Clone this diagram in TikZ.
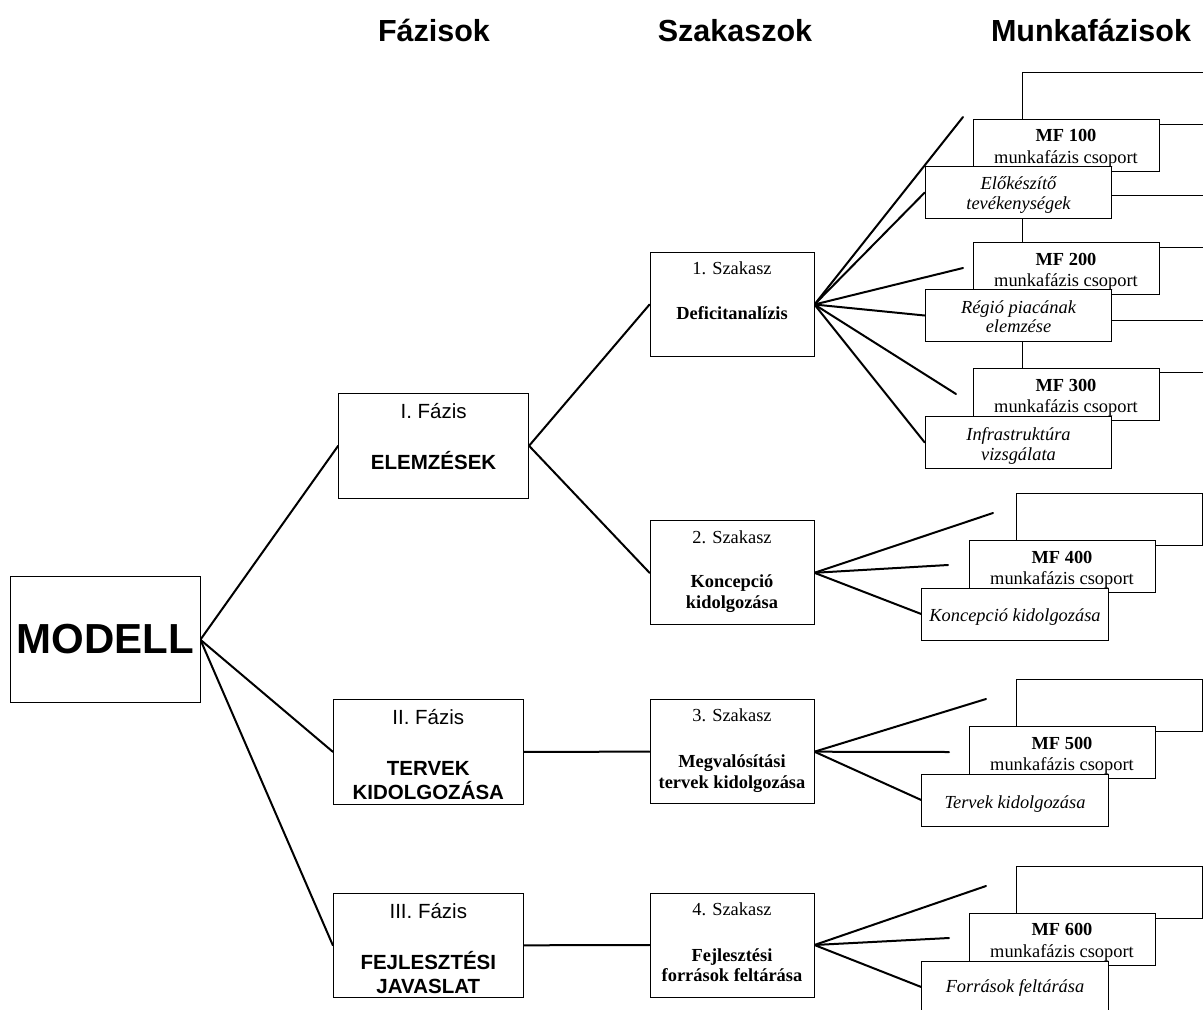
\documentclass[tikz,border=0pt]{standalone}
\usepackage{fontspec}
\setmainfont{Liberation Serif}
\setsansfont{Liberation Sans}
\usetikzlibrary{backgrounds}
\begin{document}
\begin{tikzpicture}[x=1pt,y=-1pt,
  box/.style={draw=black, line width=0.9pt, fill=white, inner sep=0pt, rectangle},
  phasebox/.style={box, minimum width=190, minimum height=105},
  stagebox/.style={box, minimum width=164, minimum height=104},
  wpbox/.style={box, minimum width=186, minimum height=52},
  link/.style={line width=2pt, line cap=round},
  head/.style={font=\sffamily\bfseries\fontsize{30.5}{36}\selectfont, anchor=base, inner sep=0pt},
  phase/.style={font=\sffamily\fontsize{20.5}{24}\selectfont, anchor=base, inner sep=0pt},
  phasebold/.style={font=\sffamily\bfseries\fontsize{20.5}{24}\selectfont, anchor=base, inner sep=0pt},
  ser/.style={font=\fontsize{18.4}{22}\selectfont, anchor=base, inner sep=0pt},
  serb/.style={font=\bfseries\fontsize{18.4}{22}\selectfont, anchor=base, inner sep=0pt},
  seri/.style={font=\itshape\fontsize{18.4}{22}\selectfont, anchor=base, inner sep=0pt},
]
\useasboundingbox (0,0) rectangle (1203,1010);
\clip (0,0) rectangle (1203,1010);

% column headings
\node[head] (hf) at (434,41) {Fázisok};
\node[head] (hs) at (735,41) {Szakaszok};
\node[head] (hm) at (1091,41) {Munkafázisok};

% root
\node[box, minimum width=189.3, minimum height=126] (m) at (105.3,639.7) {};
\node[font=\sffamily\bfseries\fontsize{42}{48}\selectfont, anchor=base, inner sep=0pt] (mt) at (105.3,653.3) {MODELL};

% phases
\node[phasebox] (p1) at (433.6,445.8) {};
\node[phase] (p1a) at (433.6,418.8) {I. Fázis};
\node[phasebold] (p1b) at (433.6,469.5) {ELEMZÉSEK};

\node[phasebox] (p2) at (428.3,751.8) {};
\node[phase] (p2a) at (428.3,724.8) {II. Fázis};
\node[phasebold] (p2b) at (428.3,775.5) {TERVEK};
\node[phasebold] (p2c) at (428.3,799.6) {KIDOLGOZÁSA};

\node[phasebox, minimum height=104] (p3) at (428.3,945.3) {};
\node[phase] (p3a) at (428.3,918.8) {III. Fázis};
\node[phasebold] (p3b) at (428.3,969.5) {FEJLESZTÉSI};
\node[phasebold] (p3c) at (428.3,993.6) {JAVASLAT};

% stages
\node[stagebox] (s1) at (732,304.5) {};
\node[ser] (s1a) at (732,274.3) {1. Szakasz};
\node[serb] (s1b) at (732,319.3) {Deficitanalízis};

\node[stagebox] (s2) at (732,572.8) {};
\node[ser] (s2a) at (732,543.3) {2. Szakasz};
\node[serb] (s2b) at (732,587.5) {Koncepció};
\node[serb] (s2c) at (732,608.5) {kidolgozása};

\node[stagebox] (s3) at (732,751.7) {};
\node[ser] (s3a) at (732,721.7) {3. Szakasz};
\node[serb] (s3b) at (732,767.3) {Megvalósítási};
\node[serb] (s3c) at (732,788.3) {tervek kidolgozása};

\node[stagebox] (s4) at (732,945) {};
\node[ser] (s4a) at (732,915.7) {4. Szakasz};
\node[serb] (s4b) at (732,961) {Fejlesztési};
\node[serb] (s4c) at (732,981.7) {források feltárása};

% work-phase stacks: empty back sheets
\node[wpbox] (b1) at (1115,98) {};
\node[wpbox] (b2) at (1115,221) {};
\node[wpbox] (b3) at (1115,346) {};
\node[wpbox] (b4) at (1109.5,519) {};
\node[wpbox] (b5) at (1109.5,705) {};
\node[wpbox] (b6) at (1109.5,892) {};

% work-phase group sheets
\node[wpbox] (w1) at (1066,145) {};
\node[serb] (w1a) at (1066,141.7) {MF 100};
\node[ser] (w1b) at (1066,163.3) {munkafázis csoport};
\node[wpbox] (w2) at (1066,268.5) {};
\node[serb] (w2a) at (1066,265) {MF 200};
\node[ser] (w2b) at (1066,286.5) {munkafázis csoport};
\node[wpbox] (w3) at (1066,394.5) {};
\node[serb] (w3a) at (1066,391) {MF 300};
\node[ser] (w3b) at (1066,412.5) {munkafázis csoport};
\node[wpbox] (w4) at (1062,566.5) {};
\node[serb] (w4a) at (1062,563) {MF 400};
\node[ser] (w4b) at (1062,584.5) {munkafázis csoport};
\node[wpbox] (w5) at (1062,752.7) {};
\node[serb] (w5a) at (1062,749.2) {MF 500};
\node[ser] (w5b) at (1062,770.7) {munkafázis csoport};
\node[wpbox] (w6) at (1062,939.3) {};
\node[serb] (w6a) at (1062,935.8) {MF 600};
\node[ser] (w6b) at (1062,957.3) {munkafázis csoport};

% activity sheets in front
\node[wpbox, minimum width=186.6] (t1) at (1018.5,192.5) {};
\node[seri] (t1a) at (1018.5,189.5) {Előkészítő};
\node[seri] (t1b) at (1018.5,209) {tevékenységek};
\node[wpbox, minimum width=186.6] (t2) at (1018.5,315.5) {};
\node[seri] (t2a) at (1018.5,313) {Régió piacának};
\node[seri] (t2b) at (1018.5,332.5) {elemzése};
\node[wpbox, minimum width=186.6] (t3) at (1018.5,442.5) {};
\node[seri] (t3a) at (1018.5,440.5) {Infrastruktúra};
\node[seri] (t3b) at (1018.5,460) {vizsgálata};
\node[wpbox, minimum width=186.6] (t4) at (1015,614) {};
\node[seri] (t4a) at (1015,621.5) {Koncepció kidolgozása};
\node[wpbox, minimum width=186.6] (t5) at (1015,800) {};
\node[seri] (t5a) at (1015,808) {Tervek kidolgozása};
\node[wpbox, minimum width=186.6] (t6) at (1015,987) {};
\node[seri] (t6a) at (1015,992.5) {Források feltárása};

% free ends of the fan lines
\coordinate (e1) at (963,117);
\coordinate (e2) at (963,268);
\coordinate (e3) at (956,394);
\coordinate (e4) at (993,513);
\coordinate (e5) at (948,565);
\coordinate (e6) at (986,699);
\coordinate (e7) at (949,752);
\coordinate (e8) at (986,886);
\coordinate (e9) at (949,938);

\begin{scope}[on background layer]
  \draw[link] (m.east) -- (p1.west);
  \draw[link] (m.east) -- (p2.west);
  \draw[link] (m.east) -- (p3.west);
  \draw[link] (p1.east) -- (s1.west);
  \draw[link] (p1.east) -- (s2.west);
  \draw[link] (p2.east) -- (s3.west);
  \draw[link] (p3.east) -- (s4.west);
  \draw[link] (s1.east) -- (e1);
  \draw[link] (s1.east) -- (t1.west);
  \draw[link] (s1.east) -- (e2);
  \draw[link] (s1.east) -- (t2.west);
  \draw[link] (s1.east) -- (e3);
  \draw[link] (s1.east) -- (t3.west);
  \draw[link] (s2.east) -- (e4);
  \draw[link] (s2.east) -- (e5);
  \draw[link] (s2.east) -- (t4.west);
  \draw[link] (s3.east) -- (e6);
  \draw[link] (s3.east) -- (e7);
  \draw[link] (s3.east) -- (t5.west);
  \draw[link] (s4.east) -- (e8);
  \draw[link] (s4.east) -- (e9);
  \draw[link] (s4.east) -- (t6.west);
\end{scope}
\end{tikzpicture}
\end{document}
